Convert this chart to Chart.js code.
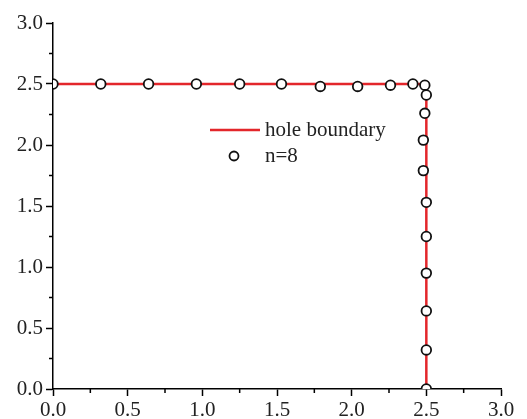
<!DOCTYPE html>
<html>
<head>
<meta charset="utf-8">
<script src="https://cdn.jsdelivr.net/npm/chart.js@4"></script>
<style>
  body { margin: 0; background: #fff; }
</style>
</head>
<body>
<canvas id="chart" width="527" height="419"></canvas>
<script>
  // hole boundary (square corner)
  const boundaryX = [0, 2.5, 2.5];
  const boundaryY = [2.5, 2.5, 0];

  // n=8 points
  const ptX = [0, 0.32, 0.64, 0.96, 1.25, 1.53, 1.79, 2.04, 2.26, 2.41, 2.49, 2.50, 2.49, 2.48, 2.48, 2.50, 2.50, 2.50, 2.50, 2.50, 2.50];
  const ptY = [2.50, 2.50, 2.50, 2.50, 2.50, 2.50, 2.48, 2.48, 2.49, 2.50, 2.49, 2.41, 2.26, 2.04, 1.79, 1.53, 1.25, 0.95, 0.64, 0.32, 0.0];

  const xTicks = [0, 0.5, 1.0, 1.5, 2.0, 2.5, 3.0];
  const yTicks = [0, 0.5, 1.0, 1.5, 2.0, 2.5, 3.0];

  const red = '#e3262b';
  const font = { family: '"Liberation Serif", "Times New Roman", serif', size: 21 };

  const minorTicks = {
    id: 'minorTicks',
    afterDraw(chart) {
      const ctx = chart.ctx;
      const xs = chart.scales.x, ys = chart.scales.y;
      ctx.save();
      ctx.strokeStyle = '#000';
      ctx.lineWidth = 1.5;
      ctx.beginPath();
      for (let v = 0.25; v < 3; v += 0.5) {
        const px = xs.getPixelForValue(v);
        ctx.moveTo(px, ys.bottom);
        ctx.lineTo(px, ys.bottom + 4);
        const py = ys.getPixelForValue(v);
        ctx.moveTo(xs.left, py);
        ctx.lineTo(xs.left - 4, py);
      }
      ctx.stroke();
      ctx.restore();
    }
  };

  const insideLegend = {
    id: 'insideLegend',
    afterDraw(chart) {
      const ctx = chart.ctx;
      const a = chart.chartArea;
      const x0 = a.left + 157, y0 = a.top + 107;
      ctx.save();
      ctx.strokeStyle = red;
      ctx.lineWidth = 2.5;
      ctx.beginPath();
      ctx.moveTo(x0, y0);
      ctx.lineTo(x0 + 50, y0);
      ctx.stroke();
      ctx.beginPath();
      ctx.arc(x0 + 24, y0 + 26, 4.5, 0, Math.PI * 2);
      ctx.fillStyle = '#fff';
      ctx.fill();
      ctx.strokeStyle = '#111';
      ctx.lineWidth = 1.8;
      ctx.stroke();
      ctx.fillStyle = '#222';
      ctx.font = font.size + 'px ' + font.family;
      ctx.textBaseline = 'middle';
      ctx.fillText('hole boundary', x0 + 55, y0);
      ctx.fillText('n=8', x0 + 55, y0 + 26);
      ctx.restore();
    }
  };

  new Chart(document.getElementById('chart'), {
    type: 'scatter',
    data: {
      datasets: [
        {
          label: 'n=8',
          data: ptX.map((x, i) => ({ x: x, y: ptY[i] })),
          pointRadius: 4.8,
          pointBackgroundColor: '#fff',
          pointBorderColor: '#111',
          pointBorderWidth: 1.8,
          showLine: false,
          clip: 0,
          order: 0
        },
        {
          label: 'hole boundary',
          data: boundaryX.map((x, i) => ({ x: x, y: boundaryY[i] })),
          showLine: true,
          borderColor: red,
          borderWidth: 2.5,
          pointRadius: 0,
          order: 1
        }
      ]
    },
    options: {
      responsive: false,
      animation: false,
      layout: { padding: { top: 23, right: 26, left: 0, bottom: 0 } },
      plugins: { legend: { display: false }, tooltip: { enabled: false } },
      scales: {
        x: {
          type: 'linear',
          min: 0, max: 3,
          afterFit: s => { s.height = 30; },
          afterBuildTicks: s => { s.ticks = xTicks.map(v => ({ value: v })); },
          border: { color: '#000', width: 1.5 },
          grid: { drawOnChartArea: false, tickLength: 7, tickColor: '#000', tickWidth: 1.5 },
          ticks: { color: '#222', font: font, padding: 2, maxRotation: 0, callback: v => v.toFixed(1) }
        },
        y: {
          type: 'linear',
          min: 0, max: 3,
          afterFit: s => { s.width = 53; },
          afterBuildTicks: s => { s.ticks = yTicks.map(v => ({ value: v })); },
          border: { color: '#000', width: 1.5 },
          grid: { drawOnChartArea: false, tickLength: 7, tickColor: '#000', tickWidth: 1.5 },
          ticks: { color: '#222', font: font, padding: 3, callback: v => v.toFixed(1) }
        }
      }
    },
    plugins: [minorTicks, insideLegend]
  });
</script>
</body>
</html>
